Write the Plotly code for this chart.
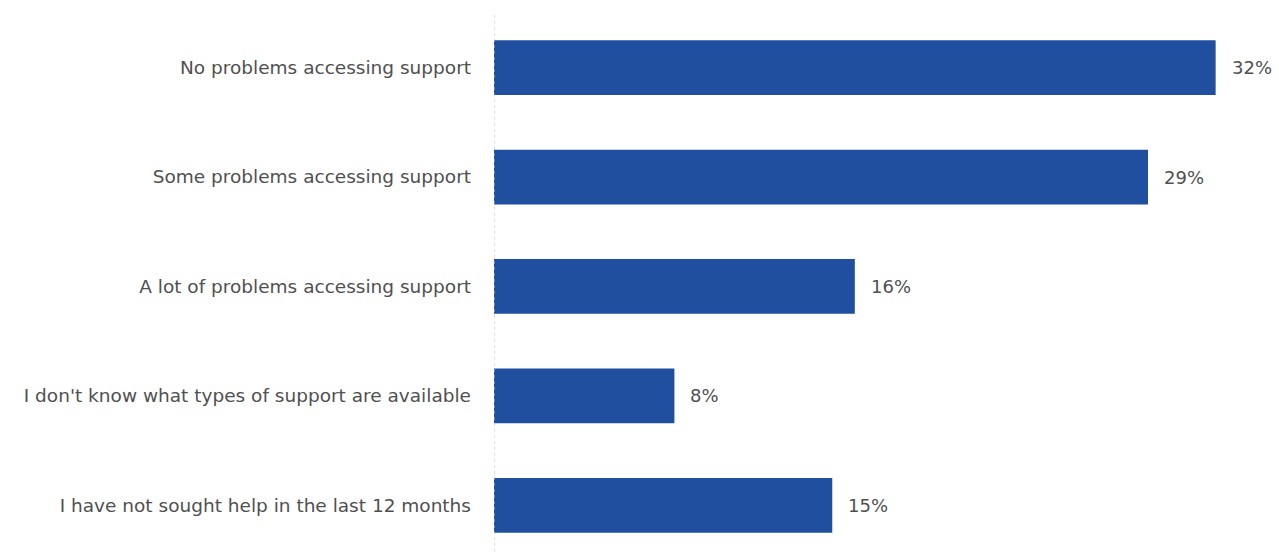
import plotly.graph_objects as go

categories = [
    "No problems accessing support",
    "Some problems accessing support",
    "A lot of problems accessing support",
    "I don't know what types of support are available",
    "I have not sought help in the last 12 months",
]
values = [32, 29, 16, 8, 15]
value_labels = ["32%", "29%", "16%", "8%", "15%"]

BAR_COLOR = "#214FA0"
TEXT_COLOR = "#505050"
FONT = "DejaVu Sans"
FONT_SIZE = 18.5

fig = go.Figure(
    go.Bar(
        x=values,
        y=categories,
        orientation="h",
        marker=dict(color=BAR_COLOR, line=dict(width=0)),
        width=0.5,
        hoverinfo="skip",
    )
)

# value labels to the right of each bar
for cat, val, lab in zip(categories, values, value_labels):
    fig.add_annotation(
        x=val, y=cat, text=lab, showarrow=False,
        xanchor="left", xshift=14,
        font=dict(family=FONT, size=FONT_SIZE - 0.5, color=TEXT_COLOR),
    )

# dotted category axis line
fig.add_shape(
    type="line", xref="x", yref="paper", x0=0, x1=0, y0=0, y1=1,
    line=dict(color="#BFBFBF", width=1, dash="dot"),
)

fig.update_layout(
    width=1279, height=552,
    margin=dict(l=494, r=16, t=13, b=0),
    paper_bgcolor="white", plot_bgcolor="white",
    showlegend=False,
    font=dict(family=FONT, size=FONT_SIZE, color=TEXT_COLOR),
)
fig.update_xaxes(range=[0, 34.1], visible=False, fixedrange=True)
fig.update_yaxes(
    range=[4.425, -0.498], showgrid=False, zeroline=False, showline=False,
    ticks="", ticklabelstandoff=22,
    tickfont=dict(family=FONT, size=FONT_SIZE, color=TEXT_COLOR),
    fixedrange=True,
)

fig.write_html("out.html")
